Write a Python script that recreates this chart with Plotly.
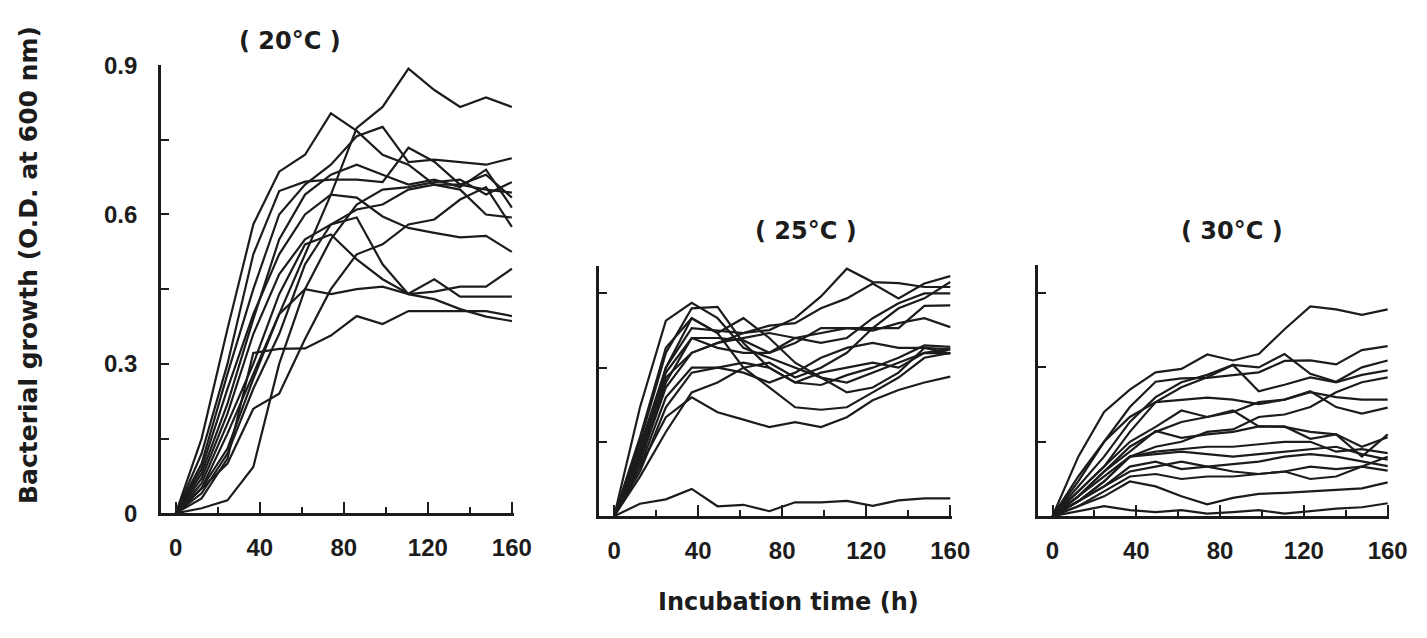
import plotly.graph_objects as go

# sampling times (h)
times = [round(i * 160 / 13, 2) for i in range(14)]

# 20 C panel
od_20c = [
    [0, .05, .13, .27, .40, .52, .64, .774, .816, .893, .85, .816, .835, .816],
    [0, .15, .37, .58, .686, .72, .803, .768, .72, .70, .66, .65, .60, .594],
    [0, .10, .28, .45, .60, .66, .70, .757, .776, .705, .71, .705, .70, .713],
    [0, .12, .30, .52, .647, .666, .67, .67, .665, .734, .706, .66, .68, .634],
    [0, .08, .22, .39, .55, .64, .68, .70, .68, .66, .67, .655, .69, .614],
    [0, .09, .25, .40, .52, .60, .64, .634, .596, .573, .563, .554, .557, .525],
    [0, .07, .20, .36, .48, .55, .58, .594, .50, .44, .43, .41, .395, .386],
    [0, .06, .18, .30, .44, .54, .56, .51, .47, .441, .47, .435, .435, .435],
    [0, .05, .16, .28, .40, .45, .44, .45, .455, .44, .445, .455, .455, .491],
    [0, .03, .11, .322, .33, .331, .357, .396, .38, .406, .406, .406, .406, .396],
    [0, .01, .026, .093, .30, .45, .55, .62, .65, .655, .665, .67, .64, .665],
    [0, .05, .10, .21, .24, .35, .45, .52, .54, .58, .59, .63, .655, .575],
    [0, .04, .12, .25, .36, .50, .58, .61, .62, .65, .66, .66, .65, .644],
]

# 25 C panel
od_25c = [
    [0, .22, .395, .431, .40, .34, .32, .30, .28, .27, .29, .31, .33, .337],
    [0, .15, .33, .42, .423, .35, .30, .27, .265, .285, .30, .32, .345, .342],
    [0, .12, .30, .40, .37, .40, .36, .31, .28, .25, .26, .29, .34, .329],
    [0, .025, .034, .055, .02, .023, .01, .028, .028, .031, .021, .032, .036, .036],
    [0, .10, .20, .24, .21, .195, .18, .19, .18, .20, .234, .255, .27, .282],
    [0, .12, .28, .33, .35, .37, .376, .40, .444, .50, .473, .471, .463, .463],
    [0, .14, .30, .38, .375, .37, .385, .39, .42, .44, .47, .44, .47, .485],
    [0, .11, .26, .33, .35, .36, .37, .36, .37, .38, .38, .38, .425, .426],
    [0, .13, .29, .36, .34, .33, .33, .35, .38, .38, .375, .39, .40, .382],
    [0, .09, .22, .29, .30, .31, .30, .27, .29, .30, .31, .30, .33, .329],
    [0, .10, .24, .30, .30, .29, .27, .29, .32, .34, .35, .34, .34, .337],
    [0, .16, .34, .40, .37, .30, .26, .22, .215, .22, .25, .28, .32, .33],
    [0, .08, .17, .25, .27, .30, .31, .28, .30, .33, .38, .42, .44, .473],
    [0, .12, .27, .36, .36, .355, .33, .36, .35, .36, .40, .43, .45, .45],
]

# 30 C panel
od_30c = [
    [0, .12, .21, .255, .29, .297, .326, .314, .327, .377, .423, .417, .406, .417],
    [0, .08, .15, .22, .271, .278, .279, .285, .29, .313, .314, .306, .335, .343],
    [0, .06, .12, .19, .24, .27, .285, .305, .30, .327, .287, .271, .30, .314],
    [0, .05, .10, .17, .23, .26, .28, .305, .252, .265, .28, .27, .285, .294],
    [0, .07, .15, .20, .23, .235, .239, .235, .226, .235, .25, .24, .235, .235],
    [0, .04, .09, .14, .17, .19, .20, .21, .23, .235, .252, .22, .207, .219],
    [0, .05, .10, .15, .18, .213, .20, .213, .181, .181, .156, .165, .12, .165],
    [0, .04, .09, .13, .172, .158, .165, .17, .181, .18, .17, .165, .14, .159],
    [0, .03, .07, .12, .13, .135, .14, .14, .145, .15, .15, .13, .135, .127],
    [0, .04, .08, .12, .125, .13, .125, .12, .125, .13, .135, .14, .125, .114],
    [0, .03, .06, .10, .11, .095, .10, .105, .11, .12, .125, .12, .11, .101],
    [0, .03, .06, .09, .10, .11, .10, .09, .085, .09, .10, .095, .10, .092],
    [0, .02, .05, .08, .085, .075, .08, .08, .085, .09, .075, .08, .10, .12],
    [0, .02, .04, .07, .06, .04, .024, .037, .045, .047, .05, .052, .056, .068],
    [0, .01, .02, .012, .008, .012, .005, .008, .012, .005, .01, .015, .018, .026],
    [0, .03, .07, .12, .14, .15, .17, .175, .20, .205, .22, .25, .27, .28],
]

panel_titles = ["( 20°C )", "( 25°C )", "( 30°C )"]
x_tick_vals = [0, 40, 80, 120, 160]
x_tick_text = ["0", "40", "80", "120", "160"]
y_tick_vals_20 = [0, 0.15, 0.3, 0.45, 0.6, 0.75, 0.9]
y_tick_text_20 = ["0", "", "0.3", "", "0.6", "", "0.9"]
y_tick_vals_small = [0, 0.15, 0.3, 0.45]

W, H = 1427, 638
TICK_FONT = "Liberation Sans"
TITLE_FONT = "DejaVu Sans"
INK = "#1c1c1c"

fig = go.Figure()

panels = [
    (od_20c, "x", "y", [155, 512], [45, 513], [0, 0.9]),
    (od_25c, "x2", "y2", [599, 956], [255, 516], [0, 0.505]),
    (od_30c, "x3", "y3", [1043, 1399], [254, 516], [0, 0.506]),
]

for data, xa, ya, _, _, _ in panels:
    for series in data:
        fig.add_trace(go.Scatter(
            x=times, y=series, xaxis=xa, yaxis=ya, mode="lines",
            line=dict(color=INK, width=2.2), showlegend=False, hoverinfo="skip",
        ))

tick_font = dict(family=TICK_FONT, size=24, color=INK, weight="bold")

layout = {}
for k, (data, xa, ya, xpx, ypx, yr) in enumerate(panels):
    xname = "xaxis" if k == 0 else f"xaxis{k+1}"
    yname = "yaxis" if k == 0 else f"yaxis{k+1}"
    layout[xname] = dict(
        domain=[xpx[0] / W, xpx[1] / W], anchor=ya,
        range=[-7, 160.8], tickvals=x_tick_vals, ticktext=x_tick_text,
        ticks="inside", ticklen=11, tickwidth=2.4, tickcolor=INK,
        minor=dict(tickvals=[20, 60, 100, 140], ticks="inside", ticklen=6,
                   tickwidth=2.4, tickcolor=INK),
        showline=True, linecolor=INK, linewidth=2.8, showgrid=False, zeroline=False,
        tickfont=tick_font, ticklabelstandoff=11,
        fixedrange=True,
    )
    if k == 0:
        tv, tt = y_tick_vals_20, y_tick_text_20
    else:
        tv, tt = y_tick_vals_small, [""] * 4
    layout[yname] = dict(
        domain=[1 - ypx[1] / H, 1 - ypx[0] / H], anchor=xa,
        range=yr, tickvals=tv, ticktext=tt,
        ticks="inside", ticklen=8, tickwidth=2.4, tickcolor=INK,
        showline=True, linecolor=INK, linewidth=2.8, showgrid=False, zeroline=False,
        tickfont=tick_font, ticklabelstandoff=16,
        fixedrange=True,
    )

fig.update_layout(**layout)

title_font = dict(family=TITLE_FONT, size=24, color=INK, weight="bold")

annotations = []
title_pos = [(286, 20), (808, 218), (1240, 218)]
for (px, py), t in zip(title_pos, panel_titles):
    annotations.append(dict(
        x=px / W, y=1 - py / H, xref="paper", yref="paper", text=t,
        showarrow=False, font=title_font,
        xanchor="center", yanchor="middle",
    ))
annotations.append(dict(
    x=790 / W, y=1 - 606 / H, xref="paper", yref="paper", text="Incubation time (h)",
    showarrow=False, font=title_font,
    xanchor="center", yanchor="middle",
))
annotations.append(dict(
    x=21 / W, y=1 - 254 / H, xref="paper", yref="paper",
    text="Bacterial growth (O.D. at 600 nm)", textangle=-90,
    showarrow=False, font=dict(family=TITLE_FONT, size=25, color=INK, weight="bold"),
    xanchor="center", yanchor="middle",
))

fig.update_layout(
    width=W, height=H, margin=dict(l=0, r=0, t=0, b=0),
    paper_bgcolor="white", plot_bgcolor="white",
    annotations=annotations, showlegend=False,
)

fig.write_html("out.html")
